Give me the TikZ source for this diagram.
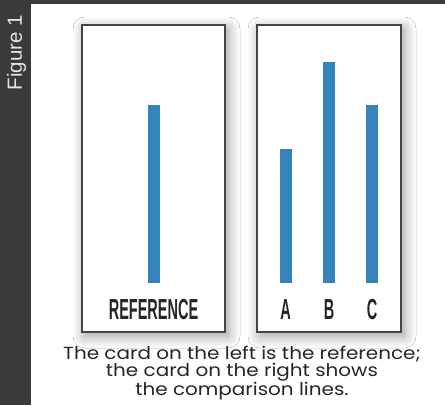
\documentclass[tikz,border=0pt]{standalone}
\usepackage{fontspec}
\setmainfont{Poppins}
\newfontfamily\sidefont{Liberation Sans}
\newfontfamily\labelfont{Liberation Sans}
\usetikzlibrary{positioning,shadows.blur}

\definecolor{sidegray}{HTML}{3A3A3A}
\definecolor{barblue}{HTML}{3583B8}
\definecolor{edgegray}{HTML}{454545}

\begin{document}
\begin{tikzpicture}[
  x=1pt, y=-1pt,
  every node/.style={align=center},
  card/.style={draw=edgegray, line width=2pt, fill=white,
               minimum width=#1, minimum height=307pt, inner sep=0pt,
               blur shadow={shadow xshift=3pt, shadow yshift=-4pt,
                            shadow blur radius=12pt, shadow blur steps=14,
                            shadow opacity=40}},
  bar/.style={fill=barblue, minimum width=12pt, minimum height=#1,
              inner sep=0pt, anchor=south},
  cardlabel/.style={font=\labelfont\bfseries\fontsize{29}{29}\selectfont,
                    text=black!85, xscale=0.5, inner sep=0pt},
]

% --- Frame: dark side strip, white panel ---
\fill[sidegray] (0,0) rectangle (445,405);
\fill[white] (31,4) rectangle (445,405);
\useasboundingbox (0,0) rectangle (445,405);

\node[rotate=90, font=\sidefont\fontsize{20.5}{20.5}\selectfont,
      text=white!90!black, inner sep=0pt]
  (figlabel) at (16.5,52.5) {Figure 1};

% --- The two cards ---
\node[card=143pt] (refcard) at (153.5,178.5) {};
\node[card=144pt] (cmpcard) at (329,178.5) {};

% --- Reference card: one line ---
\node[bar=178pt, above=50pt of refcard.south] (refbar) {};
\node[cardlabel, above=13pt of refcard.south, anchor=south] (reflabel) {REFERENCE};

% --- Comparison card: lines A, B, C ---
\node[bar=134pt, above=50pt of cmpcard.south, xshift=-43.5pt] (abar) {};
\node[bar=221pt, above=50pt of cmpcard.south] (bbar) {};
\node[bar=178pt, above=50pt of cmpcard.south, xshift=43pt] (cbar) {};

\node[cardlabel, above=13pt of cmpcard.south -| abar.south, anchor=south] (alabel) {A};
\node[cardlabel, above=13pt of cmpcard.south -| bbar.south, anchor=south] (blabel) {B};
\node[cardlabel, above=13pt of cmpcard.south -| cbar.south, anchor=south] (clabel) {C};

% --- Caption ---
\node[font=\fontsize{17.5}{15.3}\selectfont, text=black!85, inner sep=0pt,
      xscale=1.14]
  (caption) at (242,373.5) {The card on the left is the reference;\\
  the card on the right shows\\ the comparison lines.};

\end{tikzpicture}
\end{document}
